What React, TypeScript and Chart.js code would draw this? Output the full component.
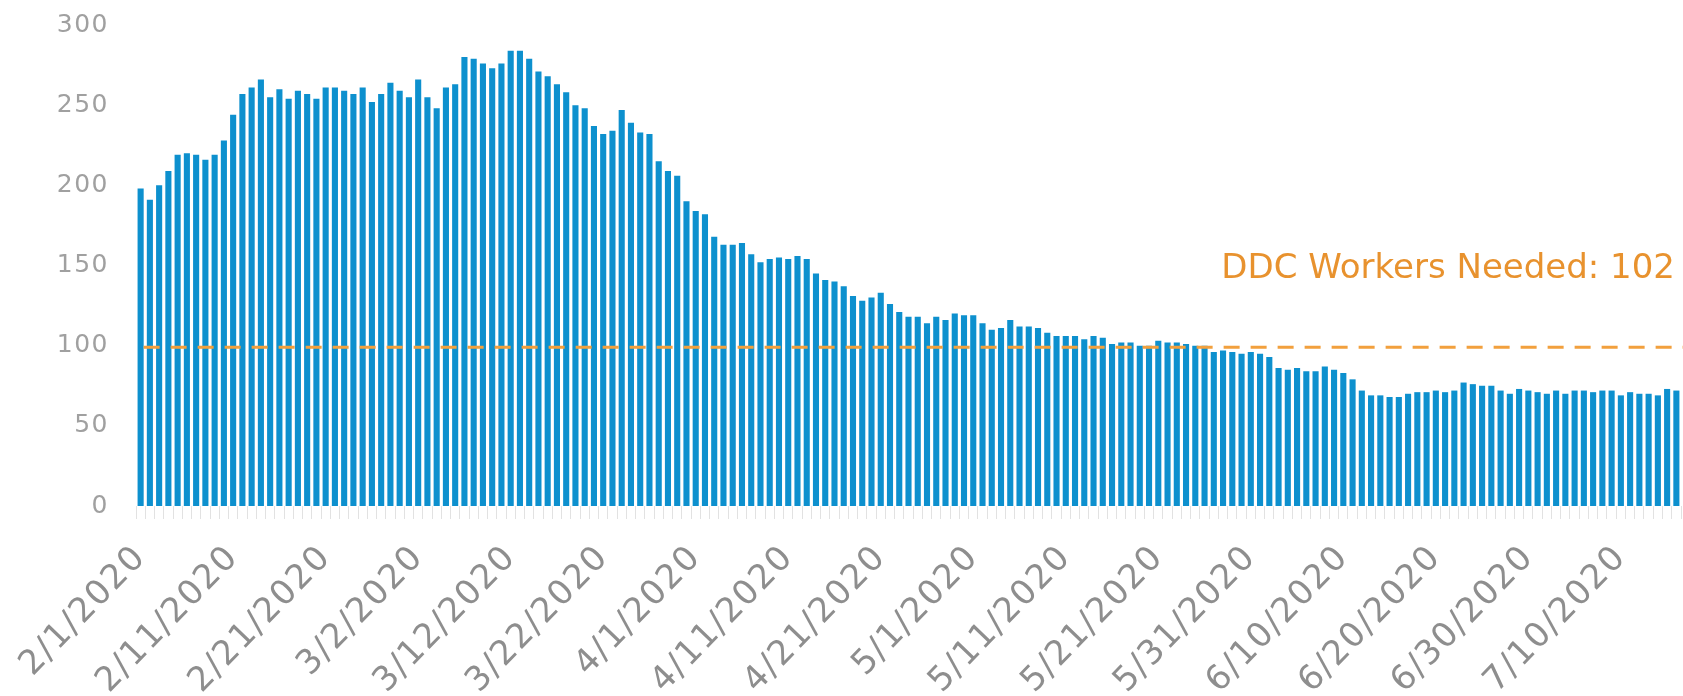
import { useEffect, useRef } from 'react';
import { Chart, registerables } from 'chart.js';

Chart.register(...registerables);

// ---- data ----
const startYear = 2020;
const startMonth = 2; // February
const startDay = 1;

const dailyWorkers = [
  198, 191, 200, 209, 219, 220, 219, 216, 219, 228,
  244, 257, 261, 266, 255, 260, 254, 259, 257, 254,
  261, 261, 259, 257, 261, 252, 257, 264, 259, 255,
  266, 255, 248, 261, 263, 280, 279, 276, 273, 276,
  284, 284, 279, 271, 268, 263, 258, 250, 248, 237,
  232, 234, 247, 239, 233, 232, 215, 209, 206, 190,
  184, 182, 168, 163, 163, 164, 157, 152, 154, 155,
  154, 156, 154, 145, 141, 140, 137, 131, 128, 130,
  133, 126, 121, 118, 118, 114, 118, 116, 120, 119,
  119, 114, 110, 111, 116, 112, 112, 111, 108, 106,
  106, 106, 104, 106, 105, 101, 102, 102, 100, 100,
  103, 102, 102, 101, 100, 100, 96, 97, 96, 95,
  96, 95, 93, 86, 85, 86, 84, 84, 87, 85,
  83, 79, 72, 69, 69, 68, 68, 70, 71, 71,
  72, 71, 72, 77, 76, 75, 75, 72, 70, 73,
  72, 71, 70, 72, 70, 72, 72, 71, 72, 72,
  69, 71, 70, 70, 69, 73, 72,
];

const workersNeededLine = 99;
const workersNeededLabel = 'DDC Workers Needed: 102';
const labelEvery = 10;
const yTicks = [0, 50, 100, 150, 200, 250, 300];

function buildCategories(count: number): string[] {
  const out: string[] = [];
  for (let i = 0; i < count; i++) {
    const d = new Date(startYear, startMonth - 1, startDay + i);
    out.push(`${d.getMonth() + 1}/${d.getDate()}/${d.getFullYear()}`);
  }
  return out;
}

const categories = buildCategories(dailyWorkers.length);

// ---- styles ----
const FONT = '"DejaVu Sans", "Liberation Sans", sans-serif';
const BAR_COLOR = '#0D90CE';
const LINE_COLOR = '#F2A03D';
const TEXT_ORANGE = '#E8922E';
const TICK_LETTER_SPACING = '1.5px';

const spacingPlugin = {
  id: 'tickSpacing',
  beforeDraw(chart: any) {
    try { chart.ctx.letterSpacing = TICK_LETTER_SPACING; } catch (e) { /* ignore */ }
  },
  afterDraw(chart: any) {
    try { chart.ctx.letterSpacing = '0px'; } catch (e) { /* ignore */ }
  },
};

const refLinePlugin = {
  id: 'refLine',
  afterDatasetsDraw(chart: any) {
    const { ctx, chartArea, scales } = chart;
    const y = scales.y.getPixelForValue(workersNeededLine);
    const xStart = scales.x.getPixelForValue(0) + 3;
    ctx.save();
    try { ctx.letterSpacing = '0px'; } catch (e) { /* ignore */ }
    ctx.strokeStyle = LINE_COLOR;
    ctx.lineWidth = 3;
    ctx.setLineDash([16, 11]);
    ctx.beginPath();
    ctx.moveTo(xStart, y);
    ctx.lineTo(chartArea.right + 2, y);
    ctx.stroke();
    ctx.setLineDash([]);
    ctx.fillStyle = TEXT_ORANGE;
    ctx.font = `34px ${FONT}`;
    ctx.textAlign = 'right';
    ctx.textBaseline = 'alphabetic';
    ctx.fillText(workersNeededLabel, chartArea.right - 6, y - 69);
    ctx.restore();
  },
};

export default function App() {
  const canvasRef = useRef<HTMLCanvasElement | null>(null);

  useEffect(() => {
    document.body.style.margin = '0';
    const canvas = canvasRef.current;
    if (!canvas) return;
    const chart = new Chart(canvas, {
      type: 'bar',
      data: {
        labels: categories,
        datasets: [
          {
            data: dailyWorkers,
            backgroundColor: BAR_COLOR,
            borderWidth: 0,
            barPercentage: 0.66,
            categoryPercentage: 1,
          },
        ],
      },
      options: {
        animation: false,
        responsive: true,
        maintainAspectRatio: false,
        layout: { padding: { top: 25, right: 2, left: 0, bottom: 0 } },
        plugins: {
          legend: { display: false },
          tooltip: { enabled: false },
          title: { display: false },
        },
        scales: {
          x: {
            offset: true,
            grid: {
              display: true,
              offset: true,
              drawOnChartArea: false,
              drawTicks: true,
              tickLength: 13,
              color: '#E2E2E2',
              lineWidth: 1,
            },
            border: { display: false },
            ticks: {
              autoSkip: false,
              minRotation: 46,
              maxRotation: 46,
              padding: 19,
              color: '#8E8E8E',
              font: { family: FONT, size: 34 },
              callback: (_v: any, i: number) => (i % labelEvery === 0 ? categories[i] : ''),
            },
            afterFit: (s: any) => {
              s.height = 190;
              s.paddingLeft = 0;
              s.paddingRight = 0;
            },
          },
          y: {
            min: 0,
            max: 300,
            afterBuildTicks: (s: any) => {
              s.ticks = yTicks.map((v) => ({ value: v }));
            },
            grid: { display: false, drawTicks: false },
            border: { display: false },
            ticks: {
              padding: 27,
              color: '#A0A0A0',
              font: { family: FONT, size: 25 },
            },
            afterFit: (s: any) => {
              s.width = 136;
              s.paddingTop = 0;
              s.paddingBottom = 0;
            },
          },
        },
      },
      plugins: [spacingPlugin, refLinePlugin],
    });
    return () => chart.destroy();
  }, []);

  return (
    <div style={{ position: 'absolute', left: 0, top: 0, width: 1683, height: 696, background: '#fff' }}>
      <canvas ref={canvasRef} />
    </div>
  );
}
